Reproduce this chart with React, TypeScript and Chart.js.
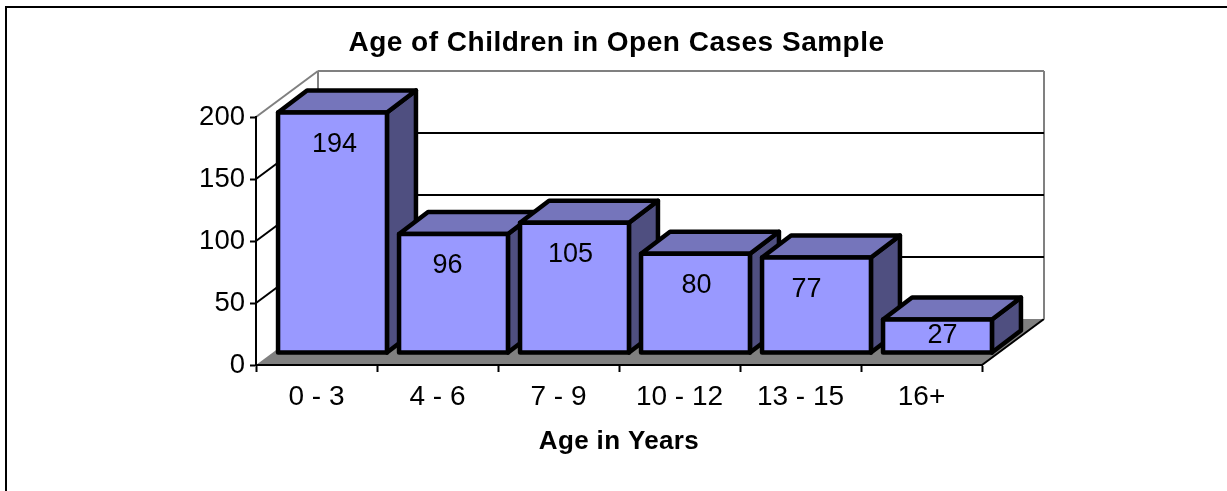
import React, { useEffect, useRef } from "react";
import { Chart, registerables } from "chart.js";

Chart.register(...registerables);

const categories = ["0 - 3", "4 - 6", "7 - 9", "10 - 12", "13 - 15", "16+"];
const values = [194, 96, 105, 80, 77, 27];
const labelNudgeX = [2, -6, -4, 1, -10, 5];

const FONT = "'Liberation Sans', Arial, sans-serif";
const WALL = { dx: 62, dy: 46 };
const BAR_OFFSET = { dx: 16, dy: 12 };
const BAR_DEPTH = { dx: 29, dy: 22 };
const GRAY = "#808080";

function poly(ctx: CanvasRenderingContext2D, pts: number[][]) {
  ctx.beginPath();
  pts.forEach(([x, y], i) => (i ? ctx.lineTo(x, y) : ctx.moveTo(x, y)));
  ctx.closePath();
}

function line(ctx: CanvasRenderingContext2D, x0: number, y0: number, x1: number, y1: number, color: string) {
  ctx.strokeStyle = color;
  ctx.lineWidth = 2;
  ctx.beginPath();
  ctx.moveTo(x0, y0);
  ctx.lineTo(x1, y1);
  ctx.stroke();
}

const scene3d: any = {
  id: "scene3d",
  afterLayout(chart: any) {
    const t = chart.titleBlock;
    t.left = 0;
    t.right = 1233;
    const xs = chart.scales.x;
    if (!xs.__spaced) {
      xs.__spaced = true;
      const orig = xs.drawTitle;
      xs.drawTitle = function () {
        chart.ctx.letterSpacing = "0.35px";
        orig.call(this);
        chart.ctx.letterSpacing = "0px";
      };
      const origT = t.draw;
      t.draw = function () {
        chart.ctx.letterSpacing = "0.5px";
        origT.call(this);
        chart.ctx.letterSpacing = "0px";
      };
    }
  },
  beforeDraw(chart: any) {
    const { ctx, width, height } = chart;
    const x = chart.scales.x;
    const y = chart.scales.y;
    ctx.save();
    ctx.fillStyle = "#ffffff";
    ctx.fillRect(0, 0, width, height);
    ctx.fillStyle = "#000000";
    ctx.fillRect(5, 6, width - 5, 2);
    ctx.fillRect(5, 6, 2, height - 6);

    const l = x.left;
    const r = x.right;
    const b = y.getPixelForValue(0);
    const t = y.getPixelForValue(200);
    // floor
    poly(ctx, [[l, b], [r, b], [r + WALL.dx, b - WALL.dy], [l + WALL.dx, b - WALL.dy]]);
    ctx.fillStyle = GRAY;
    ctx.fill();
    line(ctx, r, b, r + WALL.dx, b - WALL.dy, "#000000");
    // walls
    line(ctx, l + WALL.dx, t - WALL.dy, l + WALL.dx, b - WALL.dy, GRAY);
    line(ctx, r + WALL.dx, t - WALL.dy, r + WALL.dx, b - WALL.dy, GRAY);
    line(ctx, l, t, l + WALL.dx, t - WALL.dy, GRAY);
    line(ctx, l + WALL.dx, t - WALL.dy, r + WALL.dx, t - WALL.dy, GRAY);
    // grid
    for (const tick of y.ticks) {
      if (tick.value === 0 || tick.value === 200) continue;
      const p = y.getPixelForValue(tick.value);
      line(ctx, l, p, l + WALL.dx, p - WALL.dy, "#000000");
      line(ctx, l + WALL.dx, p - WALL.dy, r + WALL.dx, p - WALL.dy, "#000000");
    }
    ctx.restore();
  },
  beforeDatasetDraw(chart: any, args: any) {
    const { ctx } = chart;
    const meta = args.meta;
    const ds = chart.data.datasets[args.index];
    ctx.save();
    ctx.lineJoin = "round";
    ctx.lineWidth = 4.5;
    ctx.strokeStyle = "#000000";
    meta.data.forEach((el: any, i: number) => {
      const { x, y, base, width } = el.getProps(["x", "y", "base", "width"], true);
      const x0 = x - width / 2 + BAR_OFFSET.dx;
      const x1 = x + width / 2 + BAR_OFFSET.dx;
      const top = y - BAR_OFFSET.dy;
      const bot = base - BAR_OFFSET.dy;
      const dx = BAR_DEPTH.dx;
      const dy = BAR_DEPTH.dy;
      poly(ctx, [[x1, top], [x1 + dx, top - dy], [x1 + dx, bot - dy], [x1, bot]]);
      ctx.fillStyle = "#4F4F80";
      ctx.fill();
      ctx.stroke();
      poly(ctx, [[x0, top], [x0 + dx, top - dy], [x1 + dx, top - dy], [x1, top]]);
      ctx.fillStyle = "#7575BB";
      ctx.fill();
      ctx.stroke();
      ctx.fillStyle = ds.backgroundColor;
      ctx.fillRect(x0, top, x1 - x0, bot - top);
      ctx.strokeRect(x0, top, x1 - x0, bot - top);
      ctx.fillStyle = "#000000";
      ctx.font = `27px ${FONT}`;
      ctx.textAlign = "center";
      ctx.textBaseline = "middle";
      const cy = Math.min(top + 30, (top + bot) / 2 - 2);
      ctx.fillText(String(ds.data[i]), (x0 + x1) / 2 + labelNudgeX[i], cy + 2);
    });
    ctx.restore();
    return false;
  },
};

export default function App() {
  const ref = useRef<HTMLCanvasElement>(null);
  useEffect(() => {
    document.body.style.margin = "0";
    const chart = new Chart(ref.current as HTMLCanvasElement, {
      type: "bar",
      data: {
        labels: categories,
        datasets: [
          {
            label: "Children",
            data: values,
            backgroundColor: "#9999FF",
            borderColor: "#000000",
            borderWidth: 4,
            barPercentage: 0.9,
            categoryPercentage: 1,
          },
        ],
      },
      options: {
        responsive: false,
        animation: false,
        layout: { padding: { left: 0, right: 245, top: 26, bottom: 30 } },
        plugins: {
          legend: { display: false },
          tooltip: { enabled: false },
          title: {
            display: true,
            text: "Age of Children in Open Cases Sample",
            color: "#000000",
            font: { family: FONT, size: 28, weight: "bold" },
            padding: { top: 0, bottom: 57.4 },
          },
        },
        scales: {
          x: {
            afterFit(scale: any) {
              scale.height = 96;
            },
            border: { color: "#000000", width: 2 },
            grid: { offset: true, drawOnChartArea: false, tickLength: 7, tickColor: "#000000", tickWidth: 2 },
            ticks: { color: "#000000", font: { family: FONT, size: 28 }, padding: 8, maxRotation: 0 },
            title: {
              display: true,
              text: "Age in Years",
              color: "#000000",
              font: { family: FONT, size: 26, weight: "bold" },
              padding: { top: 0, bottom: 4 },
            },
          },
          y: {
            min: 0,
            max: 200,
            afterFit(scale: any) {
              scale.width = 256;
            },
            border: { color: "#000000", width: 2 },
            grid: { drawOnChartArea: false, tickLength: 6, tickColor: "#000000", tickWidth: 2 },
            ticks: { stepSize: 50, color: "#000000", font: { family: FONT, size: 27.5 }, padding: 5 },
          },
        },
      },
      plugins: [scene3d],
    } as any);
    return () => chart.destroy();
  }, []);
  return <canvas ref={ref} width={1227} height={491} style={{ display: "block" }} />;
}
